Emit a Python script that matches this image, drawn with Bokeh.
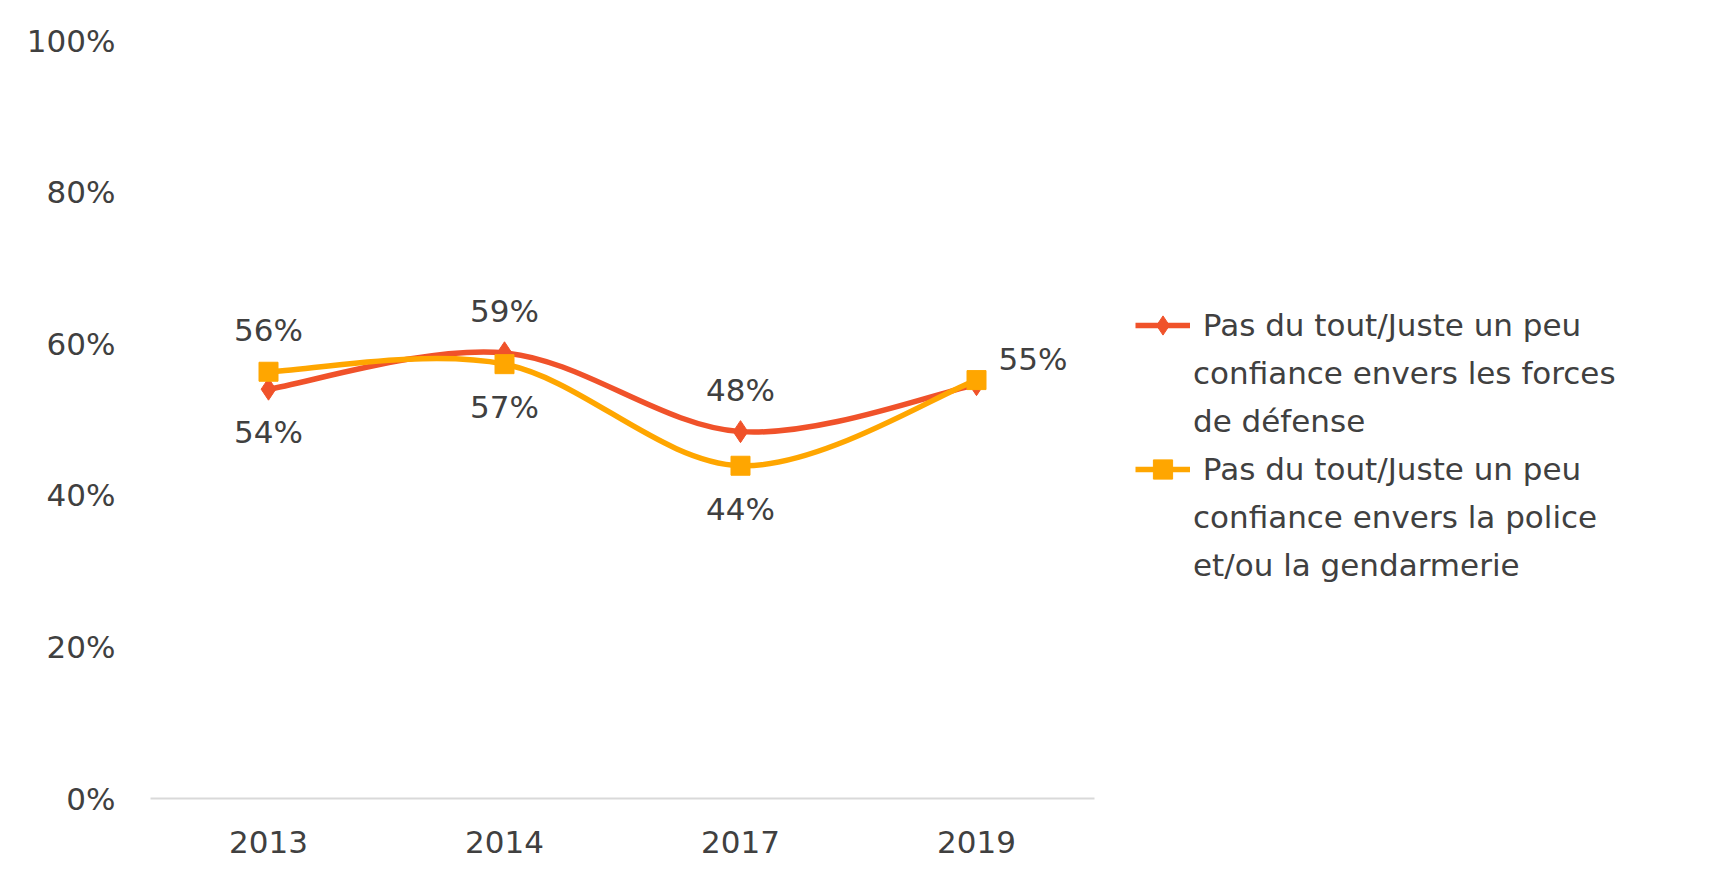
from bokeh.plotting import figure
from bokeh.models import (ColumnDataSource, Range1d, FixedTicker, Legend, LegendItem)
from bokeh.core.properties import value
from bokeh.embed import file_html
from bokeh.resources import INLINE

# ---- data ----
years = ["2013", "2014", "2017", "2019"]
defense = [54.0, 58.8, 48.4, 54.6]
police = [56.3, 57.3, 43.9, 55.2]
defense_lines = [" Pas du tout/Juste un peu", "confiance envers les forces", "de défense"]
police_lines = [" Pas du tout/Juste un peu", "confiance envers la police", "et/ou la gendarmerie"]
y_ticks = [0, 20, 40, 60, 80, 100]

RED = "#F0522A"
YEL = "#FFA600"
TXT = "#404040"
FONT = "DejaVu Sans"
FS = "31px"

xs = list(range(len(years)))

p = figure(frame_width=944, frame_height=758, output_backend="svg", toolbar_location=None,
           x_range=Range1d(-0.5, len(years) - 0.5), y_range=Range1d(0, 100),
           min_border_left=150, min_border_top=40, min_border_bottom=73,
           min_border_right=606)
p.outline_line_color = None
p.grid.grid_line_color = None
p.background_fill_color = "white"
p.border_fill_color = "white"

# axes
p.xaxis.ticker = FixedTicker(ticks=xs)
p.xaxis.major_label_overrides = {i: y for i, y in enumerate(years)}
p.xaxis.axis_line_color = "#D9D9D9"
p.xaxis.axis_line_width = 2
p.xaxis.major_tick_line_color = None
p.xaxis.minor_tick_line_color = None
p.xaxis.major_label_standoff = 26
p.yaxis.ticker = FixedTicker(ticks=y_ticks)
p.yaxis.major_label_overrides = {t: f"{t}%" for t in y_ticks}
p.yaxis.axis_line_color = None
p.yaxis.major_tick_line_color = None
p.yaxis.minor_tick_line_color = None
p.yaxis.major_label_standoff = 29
for ax in (p.xaxis, p.yaxis):
    ax.major_label_text_font = FONT
    ax.major_label_text_font_size = FS
    ax.major_label_text_color = TXT


def smooth_segments(vals):
    n = len(vals)
    d = dict(x0=[], y0=[], x1=[], y1=[], cx0=[], cy0=[], cx1=[], cy1=[])
    for i in range(n - 1):
        a = max(i - 1, 0)
        b = min(i + 2, n - 1)
        d["x0"].append(xs[i]); d["y0"].append(vals[i])
        d["x1"].append(xs[i + 1]); d["y1"].append(vals[i + 1])
        d["cx0"].append(xs[i] + (xs[i + 1] - xs[a]) / 6)
        d["cy0"].append(vals[i] + (vals[i + 1] - vals[a]) / 6)
        d["cx1"].append(xs[i + 1] - (xs[b] - xs[i]) / 6)
        d["cy1"].append(vals[i + 1] - (vals[b] - vals[i]) / 6)
    return ColumnDataSource(d)


blank = p.scatter(x=[], y=[], size=1, fill_alpha=0, line_alpha=0)

items = []
for vals, color, marker, size, lines in [
        (defense, RED, "diamond", 22, defense_lines),
        (police, YEL, "square", 19, police_lines)]:
    bz = p.bezier(x0="x0", y0="y0", x1="x1", y1="y1", cx0="cx0", cy0="cy0",
                  cx1="cx1", cy1="cy1", source=smooth_segments(vals),
                  line_color=color, line_width=5.5)
    sc = p.scatter(xs, vals, marker=marker, size=size,
                   fill_color=color, line_color=color)
    items.append(LegendItem(label=lines[0], renderers=[bz, sc]))
    for ln in lines[1:]:
        items.append(LegendItem(label=ln, renderers=[blank]))

# data labels
lab_x, lab_t, lab_y, lab_dx, lab_dy, lab_align = [], [], [], [], [], []
def_pos = ["below", "above", "above", None]
pol_pos = ["above", "below", "below", "right"]
for vals, pos in [(defense, def_pos), (police, pol_pos)]:
    for i, v in enumerate(vals):
        if pos[i] is None:
            continue
        lab_x.append(xs[i]); lab_y.append(v); lab_t.append(f"{round(v)}%")
        if pos[i] == "above":
            lab_dx.append(0); lab_dy.append(-42); lab_align.append("center")
        elif pos[i] == "below":
            lab_dx.append(0); lab_dy.append(43); lab_align.append("center")
        else:
            lab_dx.append(22); lab_dy.append(-21); lab_align.append("left")
src = ColumnDataSource(dict(x=lab_x, y=lab_y, t=lab_t, dx=lab_dx, dy=lab_dy, al=lab_align))
p.text(x="x", y="y", text="t", x_offset="dx", y_offset="dy", text_align="al",
       text_baseline="middle", text_font=value(FONT), text_font_size=FS,
       text_color=TXT, source=src)

legend = Legend(items=items, location=(41, 209), orientation="vertical",
                label_text_font=FONT, label_text_font_size=FS, label_text_color=TXT,
                glyph_width=55, glyph_height=48, label_height=48, spacing=0,
                padding=0, margin=0,
                border_line_color=None, background_fill_alpha=0,
                label_standoff=3)
p.add_layout(legend, "right")

open("out.html", "w").write(file_html(p, INLINE))
